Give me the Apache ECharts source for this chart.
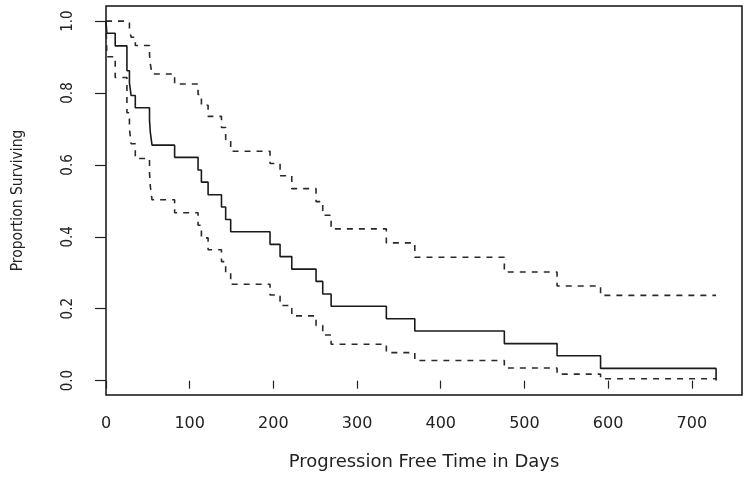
<!DOCTYPE html>
<html>
<head>
<meta charset="utf-8">
<script src="https://cdn.jsdelivr.net/npm/echarts@6/dist/echarts.min.js"></script>
<style>
  html, body { margin: 0; padding: 0; background: #fff; }
  #chart { width: 750px; height: 477px; }
</style>
</head>
<body>
<div id="chart"></div>
<script>
// Kaplan-Meier estimate with 95% confidence band
const times    = [0, 1, 11, 25, 28, 30, 35, 52, 53, 55, 82, 110, 114, 122, 138, 143, 149, 196, 208, 222, 251, 259, 269, 335, 369, 476, 539, 591, 729];
const survival = [1, 0.966, 0.931, 0.862, 0.828, 0.793, 0.759, 0.724, 0.690, 0.655, 0.621, 0.586, 0.552, 0.517, 0.483, 0.448, 0.414, 0.379, 0.345, 0.310, 0.276, 0.241, 0.207, 0.172, 0.138, 0.103, 0.069, 0.034, 0];
const upperCI  = [1, 1, 1, 0.997, 0.977, 0.955, 0.932, 0.907, 0.880, 0.853, 0.825, 0.796, 0.766, 0.735, 0.704, 0.671, 0.638, 0.604, 0.570, 0.534, 0.498, 0.460, 0.422, 0.383, 0.343, 0.302, 0.263, 0.237, 0.237];
const lowerCI  = [1, 0.901, 0.843, 0.745, 0.701, 0.659, 0.618, 0.578, 0.540, 0.503, 0.467, 0.432, 0.397, 0.364, 0.331, 0.299, 0.268, 0.238, 0.209, 0.180, 0.153, 0.127, 0.101, 0.078, 0.056, 0.035, 0.018, 0.005, 0.005];

const xTickValues = [0, 100, 200, 300, 400, 500, 600, 700];
const yTickValues = [0, 0.2, 0.4, 0.6, 0.8, 1.0];

const xTitle = 'Progression Free Time in Days';
const yTitle = 'Proportion Surviving';

const pairs = (ys) => times.map((t, i) => [t, ys[i]]);

const narrow = "'Liberation Sans Narrow', 'DejaVu Sans Condensed', 'Liberation Sans', sans-serif";
const wide = "'DejaVu Sans', 'Liberation Sans', sans-serif";

const chart = echarts.init(document.getElementById('chart'), null, { renderer: 'canvas' });
chart.setOption({
  animation: false,
  backgroundColor: '#ffffff',
  grid: {
    left: 106, right: 8, top: 6, bottom: 82,
    show: true, borderColor: '#111', borderWidth: 1.5, backgroundColor: 'transparent'
  },
  xAxis: {
    type: 'value', min: 0, max: 760,
    name: xTitle, nameLocation: 'middle', nameGap: 58,
    nameTextStyle: { fontFamily: wide, fontSize: 18, color: '#222' },
    axisLine: { show: false },
    splitLine: { show: false },
    axisTick: { show: true, inside: false, length: 8, lineStyle: { color: '#222', width: 1.2 }, customValues: xTickValues },
    axisLabel: { customValues: xTickValues, margin: 21, fontFamily: wide, fontSize: 16, color: '#222' }
  },
  yAxis: {
    type: 'value', min: -0.04, max: 1.042,
    name: yTitle, nameLocation: 'middle', nameGap: 80,
    nameTextStyle: { fontFamily: narrow, fontSize: 15.5, color: '#222' },
    axisLine: { show: false },
    splitLine: { show: false },
    axisTick: { show: true, inside: false, length: 11, lineStyle: { color: '#222', width: 1.2 }, customValues: yTickValues },
    axisLabel: {
      customValues: yTickValues, rotate: 90, margin: 30,
      fontFamily: narrow, fontSize: 15, color: '#222',
      formatter: (v) => Number(v).toFixed(1)
    }
  },
  series: [
    {
      name: 'Upper 95% CI', type: 'line', step: 'end', showSymbol: false, data: pairs(upperCI),
      lineStyle: { color: '#2a2a2a', width: 1.6, type: [6, 6] }
    },
    {
      name: 'Lower 95% CI', type: 'line', step: 'end', showSymbol: false, data: pairs(lowerCI),
      lineStyle: { color: '#2a2a2a', width: 1.6, type: [6, 6] }
    },
    {
      name: 'Survival', type: 'line', step: 'end', showSymbol: false, data: pairs(survival),
      lineStyle: { color: '#1a1a1a', width: 1.6 }
    }
  ]
});
</script>
</body>
</html>
